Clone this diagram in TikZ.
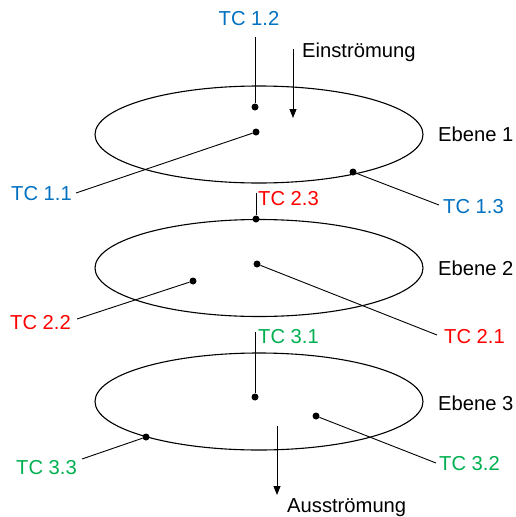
\documentclass[tikz,border=0pt]{standalone}
\usepackage{fontspec}
\setmainfont{Liberation Sans}
\usetikzlibrary{shapes.geometric,arrows.meta}
\definecolor{tcblue}{RGB}{0,112,192}
\definecolor{tcred}{RGB}{255,0,0}
\definecolor{tcgreen}{RGB}{0,176,80}
\begin{document}
\begin{tikzpicture}[x=1pt,y=-1pt,
  lbl/.style={font=\fontsize{20.2}{22}\selectfont, inner sep=0pt},
  plate/.style={draw, ellipse, minimum width=328pt, minimum height=97pt, inner sep=0pt, line width=1.1pt},
  probe/.style={circle, fill, inner sep=0pt, minimum size=7pt},
  lead/.style={line width=0.9pt},
  flow/.style={line width=0.9pt, -{Triangle[length=9pt,width=7pt]}}]
\useasboundingbox (0,0) rectangle (516,517);

% three measuring planes
\node[plate] (plate1) at (259,134.5) {};
\node[plate] (plate2) at (259,268) {};
\node[plate] (plate3) at (259,401.5) {};

\node[lbl, anchor=base west] (eb1) at (438,141) {Ebene 1};
\node[lbl, anchor=base west] (eb2) at (438,275) {Ebene 2};
\node[lbl, anchor=base west] (eb3) at (438,410) {Ebene 3};

% plane 1 thermocouples
\node[probe] (p12) at (255,107) {};
\node[probe] (p11) at (256,132) {};
\node[probe] (p13) at (353,172) {};
\node[lbl, tcblue, anchor=base] (l12) at (249,25) {TC 1.2};
\node[lbl, tcblue, anchor=base east] (l11) at (72,200) {TC 1.1};
\node[lbl, tcblue, anchor=base west] (l13) at (443,213) {TC 1.3};
\coordinate (e12) at (255,37);
\coordinate (e11) at (76,193);
\coordinate (e13) at (439,205);
\draw[lead] (e12) -- (p12);
\draw[lead] (e11) -- (p11);
\draw[lead] (e13) -- (p13);

% plane 2 thermocouples
\node[probe] (p23) at (256,219) {};
\node[probe] (p21) at (257,264) {};
\node[probe] (p22) at (193,281) {};
\node[lbl, tcred, anchor=base west] (l23) at (258,205) {TC 2.3};
\node[lbl, tcred, anchor=base west] (l21) at (444,343) {TC 2.1};
\node[lbl, tcred, anchor=base east] (l22) at (71,329) {TC 2.2};
\coordinate (e23) at (256,193);
\coordinate (e21) at (437,335);
\coordinate (e22) at (77,319);
\draw[lead] (e23) -- (p23);
\draw[lead] (e21) -- (p21);
\draw[lead] (e22) -- (p22);

% plane 3 thermocouples
\node[probe] (p31) at (255,397) {};
\node[probe] (p32) at (316,416) {};
\node[probe] (p33) at (146,437) {};
\node[lbl, tcgreen, anchor=base west] (l31) at (258,343) {TC 3.1};
\node[lbl, tcgreen, anchor=base west] (l32) at (439,470) {TC 3.2};
\node[lbl, tcgreen, anchor=base east] (l33) at (77,474) {TC 3.3};
\coordinate (e31) at (255,332);
\coordinate (e32) at (436,463);
\coordinate (e33) at (82,459);
\draw[lead] (e31) -- (p31);
\draw[lead] (e32) -- (p32);
\draw[lead] (e33) -- (p33);

% inflow and outflow
\node[lbl, anchor=base west] (ein) at (302,57) {Einströmung};
\node[lbl, anchor=base west] (aus) at (287,512) {Ausströmung};
\coordinate (einA) at (293,49);
\coordinate (einB) at (293,118);
\coordinate (ausA) at (277,426);
\coordinate (ausB) at (277,495);
\draw[flow] (einA) -- (einB);
\draw[flow] (ausA) -- (ausB);
\end{tikzpicture}
\end{document}
